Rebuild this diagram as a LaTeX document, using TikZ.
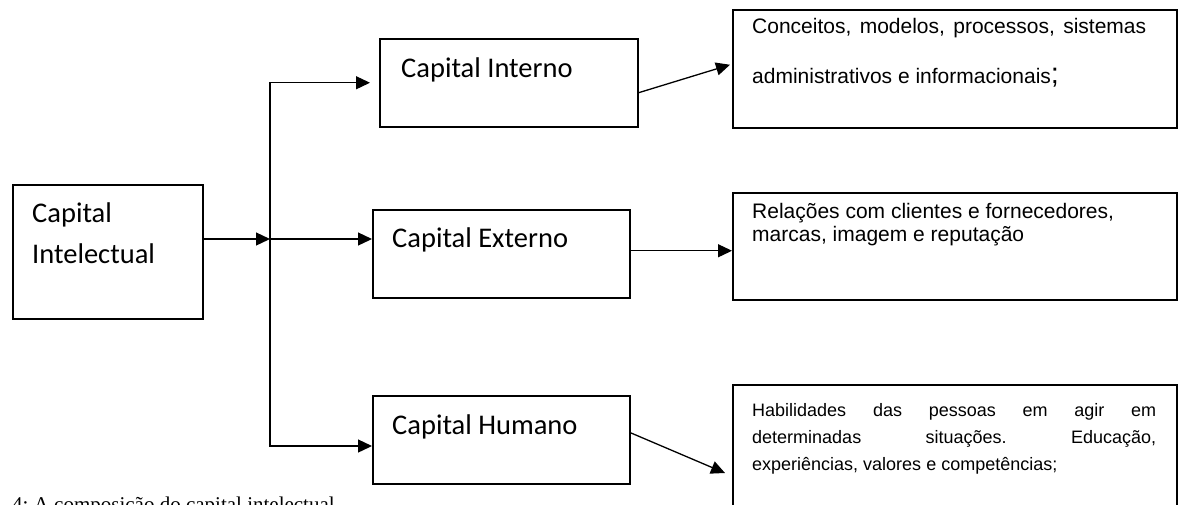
\documentclass[tikz,border=0pt]{standalone}
\usepackage{fontspec}
\setmainfont{Liberation Sans}
\newfontfamily\calibrifont{Carlito}
\newfontfamily\seriffont{Liberation Serif}
\usetikzlibrary{calc,arrows.meta}
\frenchspacing

\tikzset{
  caixa/.style={draw, line width=1.5pt, inner sep=0pt, anchor=north west},
  seta/.style={line width=1.3pt, -{Triangle[length=14pt,width=13pt]}},
  rotulo/.style={inner sep=0pt, anchor=base west, font=\calibrifont\fontsize{28.5}{34}\selectfont},
  texto/.style={inner sep=0pt, anchor=base west, font=\fontsize{21}{25}\selectfont},
  textop/.style={inner sep=0pt, anchor=base west, font=\fontsize{18}{22}\selectfont},
}

\begin{document}
\begin{tikzpicture}[x=1pt,y=-1pt]

    % 描画範囲
    \path[use as bounding box, clip] (0,0) rectangle (1196,504);

    % パラメータの定義
    \pgfmathsetmacro{\lx}{752}

    % 左の箱
    \node[caixa, minimum width=190pt, minimum height=134pt] (intel) at (12,184) {};
    \node[rotulo] (tIntel1) at (32,222) {Capital};
    \node[rotulo] (tIntel2) at (32,263) {Intelectual};

    % 中央の箱
    \node[caixa, minimum width=258pt, minimum height=88pt] (int) at (379,38) {};
    \node[caixa, minimum width=257pt, minimum height=88pt] (ext) at (372,209) {};
    \node[caixa, minimum width=257pt, minimum height=88pt] (hum) at (372,395) {};
    \node[rotulo] (tInt) at (401,77) {Capital Interno};
    \node[rotulo] (tExt) at (392,247) {Capital Externo};
    \node[rotulo] (tHum) at (392,434) {Capital Humano};

    % 右の箱
    \node[caixa, minimum width=444pt, minimum height=118pt] (caixa1) at (732,9) {};
    \node[caixa, minimum width=444pt, minimum height=107pt] (caixa2) at (732,192) {};
    \node[caixa, minimum width=444pt, minimum height=140pt] (caixa3) at (732,384) {};

    \node[texto] (t1a) at (\lx,33) {\makebox[394pt][s]{Conceitos, modelos, processos, sistemas}};
    \node[texto] (t1b) at (\lx,83) {administrativos e informacionais{\fontsize{29}{29}\selectfont;}};
    \node[texto] (t2a) at (\lx,218) {Relações com clientes e fornecedores,};
    \node[texto] (t2b) at (\lx,241) {marcas, imagem e reputação};
    \node[textop] (t3a) at (\lx,416) {\makebox[404pt][s]{Habilidades das pessoas em agir em}};
    \node[textop] (t3b) at (\lx,443) {\makebox[404pt][s]{determinadas situações. Educação,}};
    \node[textop] (t3c) at (\lx,470) {experiências, valores e competências;};

    % 分岐の矢印
    \coordinate (split) at (270,239);
    \coordinate (baixo) at (270,446);
    \draw[seta] (split -| intel.east) -- (split);
    \draw[seta] (split) -- (split -| ext.west);
    \draw[seta] (split) |- ($(int.west)+(-9,0)$);
    \draw[seta] (split) |- (baixo -| hum.west);

    % 右への矢印
    \coordinate (meio) at ($(ext.east)+(0,-3)$);
    \draw[seta] ($(int.east)+(0,10)$) -- ($(caixa1.west)+(-2,-4)$);
    \draw[seta] (meio) -- (meio -| caixa2.west);
    \draw[seta] ($(hum.east)+(0,-7)$) -- ($(caixa3.north west)+(-7,89)$);

    % 図の説明（下端で切れている）
    \node[inner sep=0pt, anchor=base west, font=\seriffont\fontsize{21}{25}\selectfont] (legenda) at (12,511) {4: A composição do capital intelectual};
    %
\end{tikzpicture}
\end{document}
